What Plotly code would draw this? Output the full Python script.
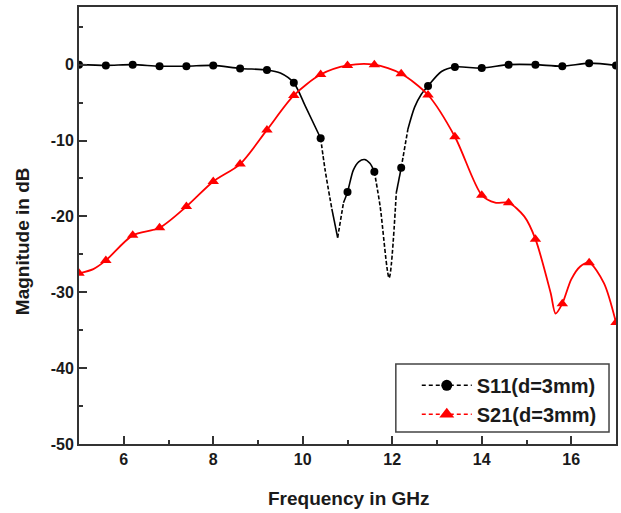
import plotly.graph_objects as go

# Sampled frequencies carrying the symbols (GHz)
freq_markers = [5.0, 5.6, 6.2, 6.8, 7.4, 8.0, 8.6, 9.2, 9.8, 10.4, 11.0,
                11.6, 12.2, 12.8, 13.4, 14.0, 14.6, 15.2, 15.8, 16.4, 17.0]
s11_markers = [0.0, -0.1, 0.0, -0.2, -0.2, -0.1, -0.5, -0.7, -2.4, -9.7, -16.8,
               -14.1, -13.6, -2.8, -0.3, -0.45, 0.0, 0.0, -0.2, 0.2, -0.1]
s21_markers = [-27.5, -25.8, -22.5, -21.5, -18.7, -15.4, -13.1, -8.6, -4.05, -1.3, -0.1,
               0.0, -1.2, -4.0, -9.5, -17.2, -18.2, -23.0, -31.5, -26.1, -34.0]

# Full-resolution responses (GHz, dB)
s11_curve_freq = [5.0, 5.6, 6.2, 6.8, 7.4, 8.0, 8.6, 9.2, 9.5, 9.8, 10.06, 10.4,
                  10.5, 10.65, 10.78, 10.91, 11.0, 11.13, 11.25, 11.38, 11.5, 11.6,
                  11.73, 11.93, 12.09, 12.2, 12.35, 12.5, 12.65, 12.8, 13.1, 13.4,
                  14.0, 14.6, 15.2, 15.8, 16.4, 17.0]
s11_curve_db = [0.0, -0.1, 0.0, -0.2, -0.2, -0.1, -0.5, -0.7, -1.1, -2.4, -5.5, -9.7,
                -13.9, -19.0, -22.8, -18.2, -16.8, -13.9, -12.8, -12.5, -13.0, -14.1,
                -18.7, -28.1, -16.9, -13.6, -8.5, -5.6, -3.9, -2.8, -0.9, -0.3,
                -0.45, 0.0, 0.0, -0.2, 0.2, -0.1]
s21_curve_freq = [5.0, 5.32, 5.6, 6.2, 6.8, 7.4, 8.0, 8.6, 9.2, 9.8, 10.4, 11.0,
                  11.6, 12.2, 12.8, 13.4, 14.0, 14.3, 14.6, 14.95, 15.2, 15.54,
                  15.65, 15.8, 16.0, 16.2, 16.4, 16.73, 17.0]
s21_curve_db = [-27.5, -26.95, -25.8, -22.5, -21.5, -18.7, -15.4, -13.1, -8.6, -4.05,
                -1.3, -0.1, 0.0, -1.2, -4.0, -9.5, -17.2, -18.2, -18.2, -20.0, -23.0,
                -30.1, -32.8, -31.5, -28.3, -26.6, -26.1, -28.8, -34.0]

# Axis tick values and their labels
x_ticks = [6, 8, 10, 12, 14, 16]
x_tick_labels = ["6", "8", "10", "12", "14", "16"]
y_ticks = [0, -10, -20, -30, -40, -50]
y_tick_labels = ["0", "-10", "-20", "-30", "-40", "-50"]

X_RANGE = [5, 17]
Y_RANGE = [-50, 7.6]
PLOT_W, PLOT_H = 539, 437
FONT = "Liberation Sans, Arial"
INK = "#1a1a1a"
AXIS = "#333333"


def split_by_steepness(xs, ys, limit=5.2):
    """Split a curve into gentle and steep runs (steepness in screen pixels)."""
    px_x = PLOT_W / (X_RANGE[1] - X_RANGE[0])
    px_y = PLOT_H / (Y_RANGE[1] - Y_RANGE[0])
    gentle_x, gentle_y, steep_x, steep_y = [], [], [], []
    prev = None
    for i in range(len(xs) - 1):
        dx = (xs[i + 1] - xs[i]) * px_x
        dy = abs(ys[i + 1] - ys[i]) * px_y
        steep = dy > limit * dx
        tx, ty = (steep_x, steep_y) if steep else (gentle_x, gentle_y)
        if prev is not steep:
            if tx:
                tx.append(None)
                ty.append(None)
            tx.append(xs[i])
            ty.append(ys[i])
        tx.append(xs[i + 1])
        ty.append(ys[i + 1])
        prev = steep
    return (gentle_x, gentle_y), (steep_x, steep_y)


fig = go.Figure()

for cx, cy, mk_y, color, symbol, msize, lw, name in [
    (s11_curve_freq, s11_curve_db, s11_markers, "#000000", "circle", 8, 1.6, "S11(d=3mm)"),
    (s21_curve_freq, s21_curve_db, s21_markers, "#ff0000", "triangle-up", 10, 1.8, "S21(d=3mm)"),
]:
    (gx, gy), (sx, sy) = split_by_steepness(cx, cy)
    fig.add_trace(go.Scatter(x=gx, y=gy, mode="lines",
                             line=dict(color=color, width=lw, shape="spline", smoothing=0.8),
                             connectgaps=False, showlegend=False, hoverinfo="skip"))
    if sx:
        fig.add_trace(go.Scatter(x=sx, y=sy, mode="lines",
                                 line=dict(color=color, width=lw, dash="4px,2px", shape="spline", smoothing=0.8),
                                 connectgaps=False, showlegend=False, hoverinfo="skip"))
    fig.add_trace(go.Scatter(x=freq_markers, y=mk_y, mode="markers",
                             marker=dict(color=color, symbol=symbol, size=msize, line=dict(width=0)),
                             showlegend=False))
    # legend entry
    fig.add_trace(go.Scatter(x=[None], y=[None], mode="lines+markers", name=name,
                             line=dict(color=color, width=1.5, dash="4px,3px"),
                             marker=dict(color=color, symbol=symbol, size=msize + 3)))

axis_common = dict(
    showline=True, linecolor=AXIS, linewidth=2, mirror=True,
    ticks="inside", ticklen=8, tickwidth=2, tickcolor=AXIS,
    showgrid=False, zeroline=False,
    tickfont=dict(family=FONT, size=16, color=INK, weight="bold"),
)

fig.update_xaxes(range=X_RANGE, tickvals=x_ticks, ticktext=x_tick_labels,
                 minor=dict(ticks="inside", ticklen=4, tickwidth=2, tickcolor=AXIS, dtick=1, tick0=5),
                 **axis_common)
fig.update_yaxes(range=Y_RANGE, tickvals=y_ticks, ticktext=y_tick_labels,
                 minor=dict(ticks="inside", ticklen=4, tickwidth=2, tickcolor=AXIS, dtick=5, tick0=0),
                 **axis_common)

title_font = dict(family=FONT, size=19, color=INK, weight="bold")
fig.add_annotation(text="Frequency in GHz", xref="paper", yref="paper", x=0.503, y=-0.1236,
                   xanchor="center", yanchor="middle", showarrow=False, font=title_font)
fig.add_annotation(text="Magnitude in dB", xref="paper", yref="paper", x=-0.1058, y=0.4645,
                   xanchor="center", yanchor="middle", textangle=-90, showarrow=False, font=title_font)

# legend frame
fig.add_shape(type="rect", xref="paper", yref="paper", x0=0.59, x1=0.987, y0=0.0275, y1=0.183,
              line=dict(color="#444444", width=1.5), fillcolor="white", layer="above")

fig.update_layout(
    width=621, height=513,
    margin=dict(l=79, r=3, t=7, b=69),
    plot_bgcolor="white", paper_bgcolor="white",
    legend=dict(x=0.629, y=0.101, xanchor="left", yanchor="middle",
                bgcolor="rgba(0,0,0,0)", borderwidth=0,
                font=dict(family=FONT, size=20, color=INK, weight="bold"),
                itemwidth=50, tracegroupgap=0),
)

fig.write_html("out.html")
